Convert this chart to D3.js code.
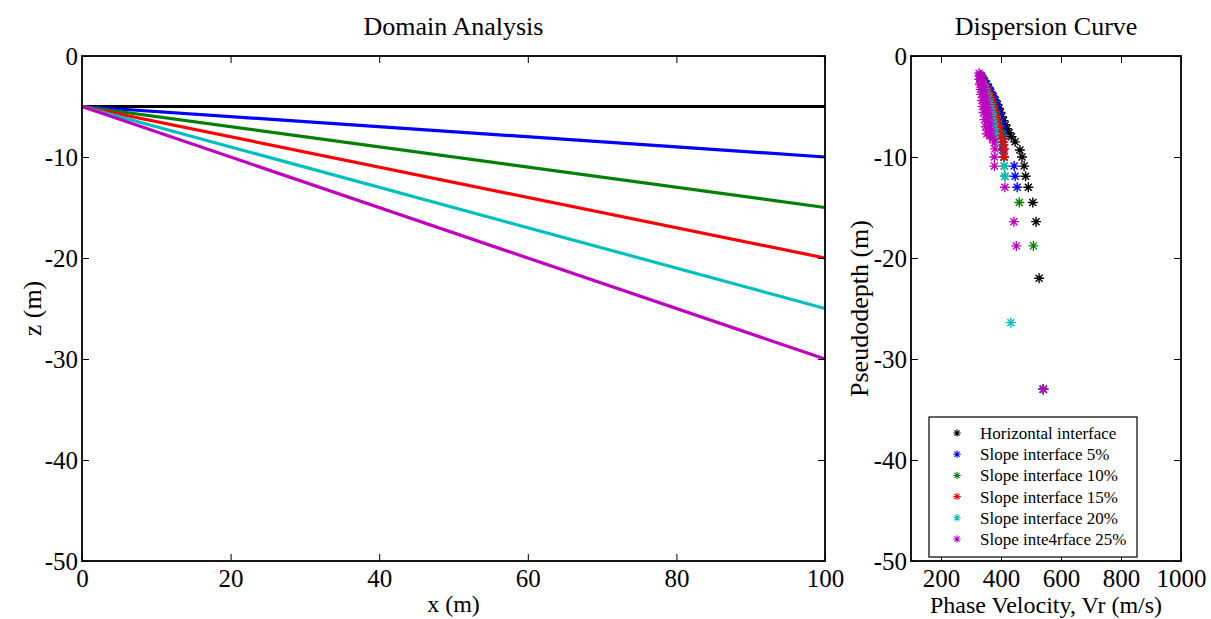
<!DOCTYPE html>
<html>
<head>
<meta charset="utf-8">
<script src="https://cdn.jsdelivr.net/npm/d3@7"></script>
<style>
	body { margin: 0; background: #fff; }
	svg text { font-family: 'Liberation Serif', 'Times New Roman', serif; fill: #000; }
	.tick line { stroke: #000; stroke-width: 1; }
</style>
</head>
<body>
<svg id="chart" width="1211" height="619"></svg>
<script>
// series shared by both panels
const seriesNames = ['Horizontal interface', 'Slope interface 5%', 'Slope interface 10%', 'Slope interface 15%', 'Slope interface 20%', 'Slope inte4rface 25%'];
const seriesColors = ['#000000', '#0000ff', '#008000', '#ff0000', '#00bfbf', '#bf00bf'];

// domain analysis: interface from (0,-5) to (100, zEnd)
const xStart = 0, xEnd = 100, zStart = -5;
const zEnd = [-5, -10, -15, -20, -25, -30];

// dispersion curve: [phase velocity, pseudodepth]
const blackPts = [[335,-2.0],[342,-2.4],[350,-2.8],[358,-3.2],[366,-3.6],[374,-4.0],[381,-4.4],[388,-4.8],[393,-5.2],[398,-5.6],[403,-6.0],[408,-6.4],[414,-6.8],[420,-7.2],[427,-7.6],[435,-8.0],[447,-8.5],[463,-9.3],[470,-10.0],[477,-10.9],[482,-11.9],[491,-13.0],[506,-14.5],[517,-16.4],[527,-22.0],[541,-33.0]];
const bluePts = [[332,-1.9],[338,-2.2],[345,-2.5],[352,-2.8],[358,-3.1],[364,-3.5],[370,-3.9],[376,-4.3],[382,-4.7],[387,-5.1],[392,-5.6],[397,-6.1],[401,-6.6],[404,-7.1],[406,-7.6],[408,-8.2],[408,-8.8],[406,-9.3],[410,-10.0],[444,-10.9],[447,-11.9],[454,-13.0],[541,-33.0]];
const greenPts = [[331,-2.0],[336,-2.3],[342,-2.7],[348,-3.1],[354,-3.5],[360,-3.9],[366,-4.4],[372,-4.9],[378,-5.4],[383,-5.9],[388,-6.4],[393,-6.9],[397,-7.4],[401,-7.9],[405,-8.5],[408,-9.2],[410,-10.0],[411,-10.9],[413,-11.9],[461,-14.5],[508,-18.8],[541,-33.0]];
const redPts = [[330,-2.0],[336,-2.4],[343,-2.8],[350,-3.2],[357,-3.6],[364,-4.0],[369,-4.5],[374,-5.0],[379,-5.5],[383,-6.0],[387,-6.5],[390,-7.0],[393,-7.5],[397,-8.0],[408,-8.5],[410,-9.2],[410,-10.0],[541,-33.0]];
const cyanPts = [[329,-2.0],[334,-2.4],[340,-2.8],[346,-3.2],[352,-3.7],[357,-4.2],[362,-4.7],[366,-5.2],[370,-5.7],[373,-6.2],[376,-6.7],[378,-7.2],[380,-7.7],[381,-8.3],[411,-10.9],[413,-11.9],[433,-26.4],[541,-33.0]];
const magentaPts = [[327,-1.7],[331,-1.9],[335,-2.1],[328,-2.3],[334,-2.4],[339,-2.6],[330,-2.8],[337,-2.9],[343,-3.1],[332,-3.3],[340,-3.4],[347,-3.6],[334,-3.8],[343,-4.0],[351,-4.2],[337,-4.4],[346,-4.6],[355,-4.8],[339,-5.0],[349,-5.2],[359,-5.4],[342,-5.6],[352,-5.8],[362,-6.0],[345,-6.3],[355,-6.5],[365,-6.7],[349,-7.0],[359,-7.2],[368,-7.4],[353,-7.7],[362,-7.9],[372,-8.2],[378,-8.6],[380,-9.2],[378,-10.0],[378,-10.9],[413,-13.0],[443,-16.4],[451,-18.8],[541,-33.0]];
const dispersion = [blackPts, bluePts, greenPts, redPts, cyanPts, magentaPts];

const leftXTicks = [0, 20, 40, 60, 80, 100];
const depthTicks = [0, -10, -20, -30, -40, -50];
const velTicks = [200, 400, 600, 800, 1000];

const svg = d3.select('#chart');
const fs = 25;

const L = { left: 82, right: 825, top: 56, bottom: 561 };
const R = { left: 911, right: 1181, top: 56, bottom: 561 };

const xL = d3.scaleLinear([0, 100], [L.left, L.right]);
const yL = d3.scaleLinear([-50, 0], [L.bottom, L.top]);
const xR = d3.scaleLinear([100, 1000], [R.left, R.right]);
const yR = d3.scaleLinear([-50, 0], [R.bottom, R.top]);

// plain hyphen and no thousands separator, like the original
const plain = d => String(d);

function drawAxes (box, x, y, xTicks, yTicks) {
	const tick = 7;
	const g = svg.append('g');
	const axes = [
		[d3.axisBottom(x).tickValues(xTicks).tickSize(-tick).tickFormat(plain), box.bottom, 0],
		[d3.axisTop(x).tickValues(xTicks).tickSize(-tick).tickFormat(''), box.top, 0],
		[d3.axisLeft(y).tickValues(yTicks).tickSize(-tick).tickFormat(plain), 0, box.left],
		[d3.axisRight(y).tickValues(yTicks).tickSize(-tick).tickFormat(''), 0, box.right],
	];
	axes.forEach(([ax, ty, tx], i) => {
		const a = g.append('g').attr('transform', `translate(${tx},${ty})`).call(ax);
		a.select('.domain').remove();
		a.selectAll('text').attr('font-size', fs).style('font-family', "'Liberation Serif', serif");
		if (i === 0) a.selectAll('text').attr('dy', '0.82em').attr('y', 5);
		if (i === 2) a.selectAll('text').attr('x', -4).attr('dy', '0.34em');
	});
	g.append('rect')
		.attr('x', box.left).attr('y', box.top)
		.attr('width', box.right - box.left).attr('height', box.bottom - box.top)
		.attr('fill', 'none').attr('stroke', '#000').attr('stroke-width', 1.8);
}

// left panel lines
const lineG = svg.append('g');
zEnd.forEach((z, i) => {
	lineG.append('line')
		.attr('x1', xL(xStart)).attr('y1', yL(zStart))
		.attr('x2', xL(xEnd)).attr('y2', yL(z))
		.attr('stroke', seriesColors[i]).attr('stroke-width', 3.2);
});
drawAxes(L, xL, yL, leftXTicks, depthTicks);

// right panel markers
const star = 'M-5,0H5M0,-5V5M-3.5,-3.5L3.5,3.5M-3.5,3.5L3.5,-3.5';
const markG = svg.append('g');
dispersion.forEach((pts, i) => {
	markG.selectAll(null).data(pts).enter().append('path')
		.attr('d', star)
		.attr('transform', d => `translate(${xR(d[0])},${yR(d[1])})`)
		.attr('fill', 'none').attr('stroke', seriesColors[i]).attr('stroke-width', 1.4);
});
drawAxes(R, xR, yR, velTicks, depthTicks);

// legend
const lg = svg.append('g');
lg.append('rect').attr('x', 929).attr('y', 417).attr('width', 208).attr('height', 140)
	.attr('fill', '#fff').attr('stroke', '#000').attr('stroke-width', 1.2);
seriesNames.forEach((name, i) => {
	const cy = 433 + i * 21.2;
	lg.append('path').attr('d', star)
		.attr('transform', `translate(957,${cy}) scale(0.75)`)
		.attr('fill', 'none').attr('stroke', seriesColors[i]).attr('stroke-width', 1.4);
	lg.append('text').attr('x', 980).attr('y', cy).attr('dy', '0.35em')
		.attr('font-size', 17).text(name);
});

// titles and labels
const lfs = 26;
svg.append('text').attr('x', (L.left + L.right) / 2).attr('y', 35).attr('text-anchor', 'middle')
	.attr('font-size', lfs).text('Domain Analysis');
svg.append('text').attr('x', (R.left + R.right) / 2).attr('y', 35).attr('text-anchor', 'middle')
	.attr('font-size', lfs).text('Dispersion Curve');
svg.append('text').attr('x', (L.left + L.right) / 2).attr('y', 612).attr('text-anchor', 'middle')
	.attr('font-size', 24).text('x (m)');
svg.append('text').attr('x', (R.left + R.right) / 2).attr('y', 613).attr('text-anchor', 'middle')
	.attr('font-size', 24).text('Phase Velocity, Vr (m/s)');
svg.append('text').attr('transform', `translate(41,${(L.top + L.bottom) / 2}) rotate(-90)`)
	.attr('text-anchor', 'middle').attr('font-size', lfs).text('z (m)');
svg.append('text').attr('transform', `translate(868,${(R.top + R.bottom) / 2}) rotate(-90)`)
	.attr('text-anchor', 'middle').attr('font-size', lfs).text('Pseudodepth (m)');
</script>
</body>
</html>
